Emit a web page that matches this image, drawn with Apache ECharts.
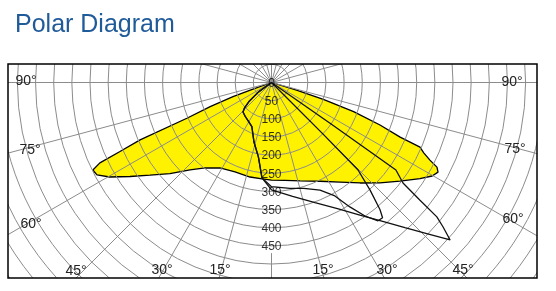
<!DOCTYPE html>
<html><head><meta charset="utf-8">
<script src="https://cdn.jsdelivr.net/npm/echarts@6/dist/echarts.min.js"></script>
<style>html,body{margin:0;padding:0;background:#fff}#c{width:556px;height:291px}</style>
</head><body><div id="c"></div>
<script>
// ---- data (angle in degrees from nadir, negative = left; value in cd) ----
const radiusTicks = [0,50,100,150,200,250,300,350,400,450];
const angleTickLabels = ['90°','75°','60°','45°','30°','15°','15°','30°','45°','60°','75°','90°'];
const spokeAngles = [-165,-150,-135,-120,-105,-90,-75,-60,-45,-30,-15,0,15,30,45,60,75,90,105,120,135,150,165,180];

const yellowAngles = [-71.5,-70.5,-69.8,-68.5,-67.1,-66.4,-65.5,-64.9,-63.9,-62.1,-59.7,-56.4,-52.7,-48.1,-43,-37.9,-31.1,-22.2,-12.8,-5.6,0,7.8,16.2,26.1,34.5,41.4,47.2,52.5,57.1,59.8,61.7,62.9,63.9,65.2,66.5,67,68.6,70.5,72,73,73.5];
const yellowValues = [0,60,113,180,253,395,460,522,548,544,516,468,421,376,329,298,275,266,267,267,269,272,282,303,333,369,407,446,487,512,521,512,486,462,446,385,321,240,150,70,0];

const curveAAngles = [-56,-54,-50,-46.5,-44,-38,-30,-24,-16.4,-10,-5.7,0,9.9,17,24.3,29.2,32.2,35,37.6,39.4,40.5,42.5,44.7,45,45.3];
const curveAValues = [0,45,80,103,113,118,125,133,171,208,264,287,296,305,325,358,405,449,481,482,460,402,339,200,0];

const curveBAngles = [-56,-54,-50,-46.5,-44,-38,-30,-24,-16.4,-10,-5.7,0,10.5,19.9,27.6,33.7,38.7,42.6,45.9,48.6,49.9,50.9,51.6,52.6,54.9,55.2,55.5];
const curveBValues = [0,45,80,103,113,118,125,133,171,208,264,296,319,352,392,439,490,543,599,656,618,587,522,456,419,200,0];

// ---- layout / style ----
const CX = 271.5, CY = 82.5, RMAX = 1000, PX_PER_UNIT = 0.363;
const gridColor = '#8c8c8c';
const labelPos = [[26,81],[30,150],[31,224],[76,271],[162,270],[220,270],[323,270],[387,270],[463,270],[513,219],[515,149],[512,82]];

function pairs(a, v){ return a.map((x,i)=>[v[i], x]); }

const series = [];
series.push({
  type:'line', coordinateSystem:'polar', z:1, symbol:'none', silent:true,
  data: pairs(yellowAngles, yellowValues),
  lineStyle:{color:'#000', width:1.3},
  areaStyle:{color:'#FFF200', opacity:1}
});
spokeAngles.forEach(a=>{
  series.push({
    type:'line', coordinateSystem:'polar', z:3, symbol:'none', silent:true,
    data: [[a===0?470:0, a],[RMAX, a]],
    lineStyle:{color:gridColor, width:1}
  });
});
series.push({
  type:'line', coordinateSystem:'polar', z:5, symbol:'none', silent:true,
  data: pairs(curveAAngles, curveAValues), lineStyle:{color:'#111', width:1.3}
});
series.push({
  type:'line', coordinateSystem:'polar', z:5, symbol:'none', silent:true,
  data: pairs(curveBAngles, curveBValues), lineStyle:{color:'#111', width:1.3}
});
series.push({
  type:'scatter', coordinateSystem:'polar', z:6, symbolSize:0, silent:true,
  data: radiusTicks.map(r=>[r,0]),
  label:{show:true, position:'inside', offset:[0,1], formatter:p=>String(p.value[0]), color:'#000',
         fontSize:12, fontFamily:'Liberation Sans, Arial, sans-serif'}
});

const graphic = [
  {type:'rect', z:50, shape:{x:0,y:0,width:556,height:64}, style:{fill:'#fff'}},
  {type:'rect', z:50, shape:{x:0,y:278,width:556,height:13}, style:{fill:'#fff'}},
  {type:'rect', z:50, shape:{x:0,y:0,width:8,height:291}, style:{fill:'#fff'}},
  {type:'rect', z:50, shape:{x:537,y:0,width:19,height:291}, style:{fill:'#fff'}},
  {type:'rect', z:51, shape:{x:8,y:64,width:529,height:214}, style:{fill:null, stroke:'#000', lineWidth:1.5}}
];
angleTickLabels.forEach((t,i)=>{
  graphic.push({type:'text', z:60, x:labelPos[i][0], y:labelPos[i][1],
    style:{text:t, fill:'#222', font:'14px "Liberation Sans", Arial, sans-serif', align:'center', verticalAlign:'middle'}});
});

const chart = echarts.init(document.getElementById('c'), null, {renderer:'canvas'});
chart.setOption({
  animation:false,
  backgroundColor:'#fff',
  title:{text:'Polar Diagram', left:10, top:8, z:100,
    textStyle:{fontSize:25, fontWeight:'normal', color:'#1f5a99', fontFamily:'Liberation Sans, Arial, sans-serif'}},
  polar:{center:[CX, CY], radius: RMAX*PX_PER_UNIT},
  angleAxis:{type:'value', min:-180, max:180, startAngle:90, clockwise:false, interval:15,
    axisLine:{show:false}, axisTick:{show:false}, axisLabel:{show:false}, splitLine:{show:false}},
  radiusAxis:{type:'value', min:0, max:RMAX, interval:50, z:3,
    axisLine:{show:false}, axisTick:{show:false}, axisLabel:{show:false},
    splitLine:{show:true, lineStyle:{color:gridColor, width:1}}},
  graphic: graphic,
  series: series
});
</script></body></html>
